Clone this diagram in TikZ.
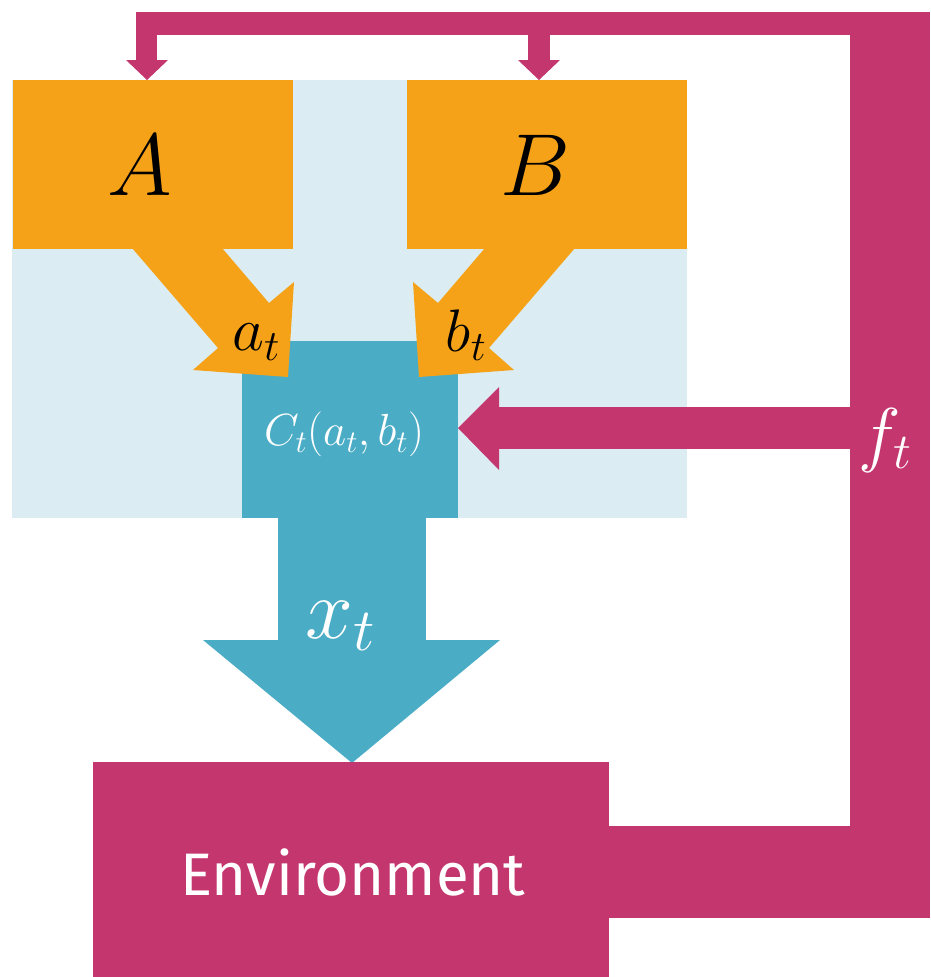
\documentclass[tikz,border=0pt]{standalone}
\usepackage{fix-cm}
\usepackage{fontspec}
\newfontfamily\envfont{Fira Sans}
\definecolor{orgc}{RGB}{245,162,24}
\definecolor{lbluec}{RGB}{219,237,243}
\definecolor{tealc}{RGB}{75,172,198}
\definecolor{magc}{RGB}{196,55,110}
\tikzset{
  boxshape/.style={rectangle, inner sep=0pt, outer sep=0pt, draw=none},
  darklabel/.style={inner sep=0pt, text=black},
  lightlabel/.style={inner sep=0pt, text=white},
}
\newcommand{\fsz}[1]{\fontsize{#1}{#1}\selectfont}
\begin{document}
\begin{tikzpicture}[x=1pt,y=-1pt]
\useasboundingbox (0,0) rectangle (930,977);
% background panel
\node[boxshape, fill=lbluec, minimum width=675pt, minimum height=438pt] (bg) at (349.5,299) {};
% A and B boxes
\node[boxshape, fill=orgc, minimum width=280pt, minimum height=169pt] (Abox) at (152.5,164.5) {};
\node[boxshape, fill=orgc, minimum width=280pt, minimum height=169pt] (Bbox) at (547,164.5) {};
% C box and x_t arrow
\node[boxshape, fill=tealc, minimum width=216pt, minimum height=177pt] (Cbox) at (350,429.5) {};
\fill[tealc] (278,517) rectangle (426,640);
\fill[tealc] (203,640) -- (500,640) -- (352,763) -- cycle;
% orange arrows
\fill[orgc] (132,248) -- (222,248) -- (269,303) -- (294,282) -- (288,377) -- (193,370) -- (218,348) -- cycle;
\fill[orgc] (575,248) -- (485,248) -- (438,303) -- (413,282) -- (419,377) -- (514,370) -- (489,348) -- cycle;
% environment and feedback
\node[boxshape, fill=magc, minimum width=516pt, minimum height=215pt] (Env) at (351,869.5) {};
\fill[magc] (608,826) rectangle (930,918);
\fill[magc] (850,12) rectangle (930,918);
\fill[magc] (136,12) rectangle (851,35);
\fill[magc] (136,34) rectangle (157,61);
\fill[magc] (126,60) -- (168,60) -- (147,80) -- cycle;
\fill[magc] (528,34) rectangle (550,61);
\fill[magc] (518,60) -- (560,60) -- (539,80) -- cycle;
\fill[magc] (498,407) rectangle (851,449);
\fill[magc] (499,387) -- (499,470) -- (458,428) -- cycle;
% labels
\node[darklabel] (Alab) at (140,165) {\fsz{88}$A$};
\node[darklabel] (Blab) at (535,165) {\fsz{88}$B$};
\node[darklabel] (alab) at (256,342) {\fsz{62}$a_t$};
\node[darklabel] (blab) at (466,335) {\fsz{60}$b_t$};
\node[lightlabel] (Clab) at (344,434) {\fsz{45}$C_t(a_t,b_t)$};
\node[lightlabel] (xlab) at (340,626) {\fsz{86}$x_t$};
\node[lightlabel] (flab) at (885,440) {\fsz{72}$f_t$};
\node[lightlabel] (Elab) at (353,872) {\envfont\fsz{60}Environment};
\end{tikzpicture}
\end{document}
